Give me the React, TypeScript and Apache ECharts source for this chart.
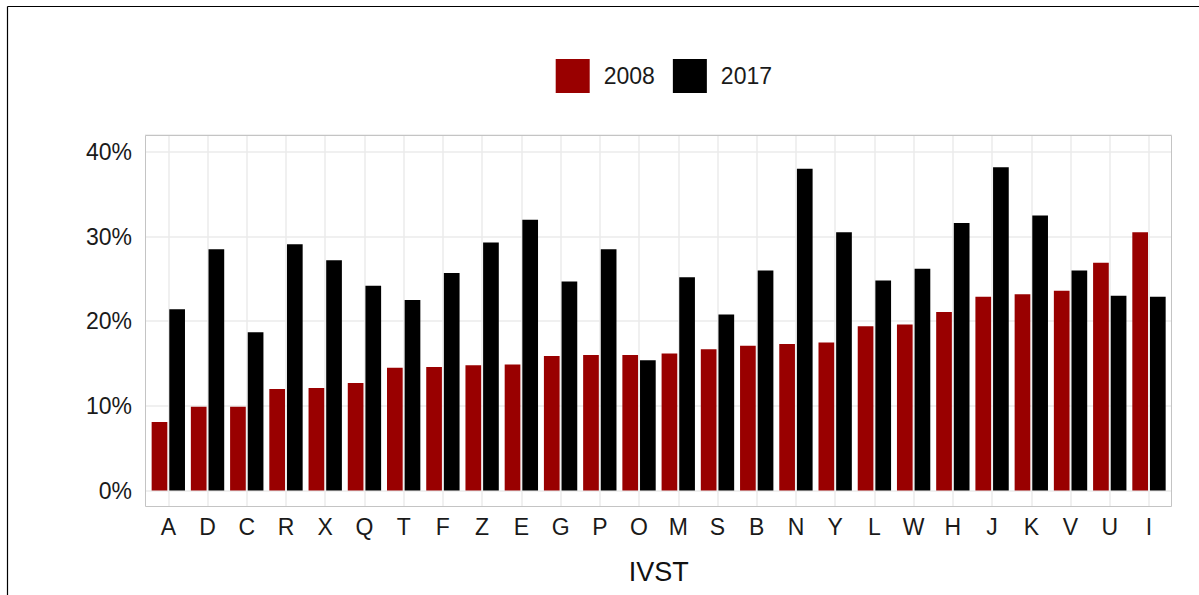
import React, { useEffect, useRef } from 'react';
import * as echarts from 'echarts';

const categories = ['A', 'D', 'C', 'R', 'X', 'Q', 'T', 'F', 'Z', 'E', 'G', 'P', 'O', 'M', 'S', 'B', 'N', 'Y', 'L', 'W', 'H', 'J', 'K', 'V', 'U', 'I'];
const values2008 = [8.1, 9.9, 9.9, 12.0, 12.1, 12.7, 14.5, 14.6, 14.8, 14.9, 15.9, 16.0, 16.0, 16.2, 16.7, 17.1, 17.3, 17.5, 19.4, 19.6, 21.1, 22.9, 23.2, 23.6, 26.9, 30.5];
const values2017 = [21.4, 28.5, 18.7, 29.1, 27.2, 24.2, 22.5, 25.7, 29.3, 32.0, 24.7, 28.5, 15.4, 25.2, 20.8, 26.0, 38.0, 30.5, 24.8, 26.2, 31.6, 38.2, 32.5, 26.0, 23.0, 22.9];
const seriesNames = ['2008', '2017'];
const xTitle = 'IVST';

export default function App() {
  const ref = useRef<HTMLDivElement>(null);
  useEffect(() => {
    document.body.style.margin = '0';
    const chart = echarts.init(ref.current as HTMLDivElement, null, { renderer: 'svg' });
    const font = '"Liberation Sans", Arial, Helvetica, sans-serif';
    const gridColor = '#ebebeb';
    chart.setOption({
      animation: false,
      backgroundColor: '#ffffff',
      textStyle: { fontFamily: font },
      legend: {
        left: 555.7,
        top: 59,
        padding: 0,
        itemWidth: 34,
        itemHeight: 34,
        itemGap: 18,
        icon: 'rect',
        data: seriesNames,
        textStyle: { fontSize: 23, color: '#1a1a1a', fontFamily: font, padding: [0, 0, 0, 9] },
      },
      grid: [
        { left: 168.3, right: 50, top: 135, height: 371.7 },
        { left: 145, right: 27.3, top: 135, height: 355.5 },
        { left: 148.7, right: 30.4, top: 135, height: 355.5 },
      ],
      xAxis: [
        {
          gridIndex: 0,
          type: 'category',
          data: categories,
          boundaryGap: false,
          axisLine: { show: false },
          axisTick: { show: false },
          axisLabel: { show: false },
          splitLine: { show: true, lineStyle: { color: gridColor, width: 1.5 } },
        },
        { gridIndex: 1, type: 'value', min: 0, max: 1, show: false },
        {
          gridIndex: 2,
          type: 'category',
          data: categories,
          axisLine: { show: false },
          axisTick: { show: false },
          splitLine: { show: false },
          axisLabel: { fontSize: 23, color: '#1a1a1a', margin: 25, fontFamily: font },
          name: xTitle,
          nameLocation: 'middle',
          nameGap: 68,
          nameTextStyle: { fontSize: 27, color: '#111', fontFamily: font },
        },
      ],
      yAxis: [
        { gridIndex: 0, type: 'value', show: false, splitLine: { show: false } },
        {
          gridIndex: 1,
          type: 'value',
          min: 0,
          max: 42,
          interval: 10,
          axisLine: { show: false },
          axisTick: { show: false },
          axisLabel: {
            fontSize: 23,
            color: '#1a1a1a',
            margin: 13,
            fontFamily: font,
            formatter: (v: number) => (Math.abs(v % 10) < 1e-9 ? v + '%' : ''),
          },
          splitLine: { show: true, lineStyle: { color: gridColor, width: 1.5 } },
        },
        { gridIndex: 2, type: 'value', min: 0, max: 42, show: false, splitLine: { show: false } },
      ],
      series: [
        {
          name: seriesNames[0],
          type: 'bar',
          xAxisIndex: 2,
          yAxisIndex: 2,
          data: values2008,
          barWidth: '40%',
          barGap: '12.5%',
          itemStyle: { color: '#990000' },
        },
        {
          name: seriesNames[1],
          type: 'bar',
          xAxisIndex: 2,
          yAxisIndex: 2,
          data: values2017,
          barWidth: '40%',
          barGap: '12.5%',
          itemStyle: { color: '#000000' },
        },
      ],
      graphic: [
        {
          type: 'rect',
          silent: true,
          z: 100,
          shape: { x: 145.5, y: 135.5, width: 1026, height: 371 },
          style: { fill: 'none', stroke: '#c4c4c4', lineWidth: 1 },
        },
        {
          type: 'line',
          silent: true,
          z: 100,
          shape: { x1: 7.5, y1: 6.5, x2: 1199, y2: 6.5 },
          style: { stroke: '#000', lineWidth: 1.2 },
        },
        {
          type: 'line',
          silent: true,
          z: 100,
          shape: { x1: 7.5, y1: 6.5, x2: 7.5, y2: 595 },
          style: { stroke: '#000', lineWidth: 1.2 },
        },
      ],
    });
    return () => chart.dispose();
  }, []);
  return <div ref={ref} style={{ position: 'fixed', left: 0, top: 0, width: 1199, height: 595 }} />;
}
